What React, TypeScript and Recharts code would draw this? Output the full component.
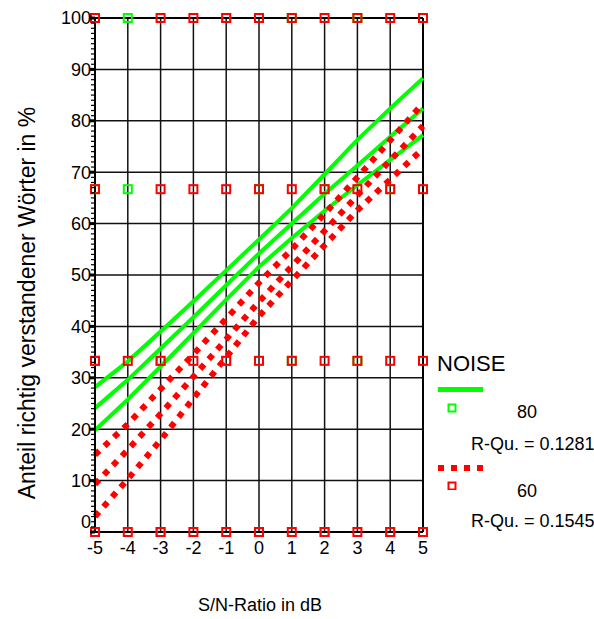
import React from "react";
import {
  ComposedChart,
  Line,
  Scatter,
  XAxis,
  YAxis,
  CartesianGrid,
  ReferenceLine,
} from "recharts";

// S/N ratio (dB) along the x axis
const snrTicks = [-5, -4, -3, -2, -1, 0, 1, 2, 3, 4, 5];
const gridLevels = [10, 20, 30, 40, 50, 60, 70, 80, 90];

// Regression line + mean confidence band, NOISE = 80
const green80Upper = [28.2, 33.2, 39.0, 44.9, 50.9, 56.9, 63.0, 69.6, 76.3, 82.4, 88.3];
const green80Fit = [24.1, 29.6, 35.7, 41.8, 48.0, 54.2, 60.0, 65.8, 71.3, 76.9, 82.4];
const green80Lower = [19.8, 25.8, 32.2, 38.7, 45.2, 51.6, 57.2, 62.5, 67.5, 72.4, 77.2];

// Regression line + mean confidence band, NOISE = 60
const red60Upper = [15.0, 21.0, 27.8, 34.6, 41.5, 48.5, 55.0, 61.9, 69.0, 76.2, 83.4];
const red60Fit = [9.3, 16.0, 23.0, 30.2, 37.5, 44.8, 51.7, 58.6, 65.5, 72.3, 79.0];
const red60Lower = [3.0, 10.3, 17.9, 26.0, 34.0, 42.0, 48.9, 55.8, 62.6, 68.6, 74.6];

// observed scores (share of 3 words)
const green80Points: [number, number][] = [
  [-5, 100], [-4, 100], [-1, 100], [0, 100], [1, 100], [3, 100], [5, 100],
  [-5, 66.7], [-4, 66.7], [0, 66.7], [2, 66.7], [4, 66.7],
  [-5, 33.3], [-3, 33.3], [-1, 33.3], [1, 33.3], [3, 33.3],
  [-5, 0], [-3, 0], [0, 0], [2, 0], [4, 0],
];
const red60Points: [number, number][] = [
  [-5, 100], [-3, 100], [-2, 100], [-1, 100], [0, 100], [1, 100], [2, 100], [3, 100], [4, 100], [5, 100],
  [-5, 66.7], [-3, 66.7], [-2, 66.7], [-1, 66.7], [0, 66.7], [1, 66.7], [2, 66.7], [3, 66.7], [4, 66.7], [5, 66.7],
  [-5, 33.3], [-4, 33.3], [-3, 33.3], [-2, 33.3], [-1, 33.3], [0, 33.3], [1, 33.3], [2, 33.3], [3, 33.3], [4, 33.3], [5, 33.3],
  [-5, 0], [-4, 0], [-3, 0], [-2, 0], [-1, 0], [0, 0], [1, 0], [2, 0], [3, 0], [4, 0], [5, 0],
];

const GREEN = "#00ff00";
const RED = "#ff0000";
const FONT = "'Liberation Sans', Arial, sans-serif";

const lineRows = snrTicks.map((x, i) => ({
  x,
  gU: green80Upper[i],
  gM: green80Fit[i],
  gL: green80Lower[i],
  rU: red60Upper[i],
  rM: red60Fit[i],
  rL: red60Lower[i],
}));

const greenPts = green80Points.map(([x, y]) => ({ x, y }));
const redPts = red60Points.map(([x, y]) => ({ x, y }));

// minor ticks every 1 %
const minorTicks = Array.from({ length: 101 }, (_, i) => i);

const YTick = (props: any) => {
  const { x, y, payload } = props;
  const v = payload.value;
  const major = v % 10 === 0;
  return (
    <g>
      <line
        x1={x - (major ? 5 : 4)}
        x2={x}
        y1={y}
        y2={y}
        stroke="#000"
        strokeWidth={major ? 3 : 1.2}
      />
      {major && (
        <text
          x={x - 4}
          y={y + (v === 0 ? -10 : 0)}
          dy="0.35em"
          textAnchor="end"
          fontSize={18}
          fontFamily={FONT}
          fill="#000"
        >
          {v}
        </text>
      )}
    </g>
  );
};

const square = (color: string) => (props: any) => {
  const { cx, cy } = props;
  return (
    <rect x={cx - 4} y={cy - 4} width={8} height={8} fill="none" stroke={color} strokeWidth={2} />
  );
};

const textStyle: React.CSSProperties = {
  position: "absolute",
  fontFamily: FONT,
  color: "#000",
  whiteSpace: "nowrap",
  lineHeight: 1,
};

export default function App() {
  return (
    <div style={{ position: "absolute", left: 0, top: 0, width: 594, height: 619, background: "#fff" }}>
      <ComposedChart
        width={594}
        height={619}
        data={lineRows}
        margin={{ top: 18, right: 171, bottom: 57, left: 35 }}
      >
        <CartesianGrid horizontal={false} stroke="#111" strokeWidth={1.5} />
        {gridLevels.map((v) => (
          <ReferenceLine key={v} y={v} stroke="#111" strokeWidth={1.5} />
        ))}
        <ReferenceLine y={100} stroke="#000" strokeWidth={2} />
        <ReferenceLine x={5} stroke="#000" strokeWidth={2} />
        <XAxis
          dataKey="x"
          type="number"
          domain={[-5, 5]}
          ticks={snrTicks}
          interval={0}
          height={30}
          tickLine={false}
          tickSize={6}
          tickMargin={3}
          axisLine={{ stroke: "#000", strokeWidth: 2 }}
          tick={{ fill: "#000", fontSize: 18, fontFamily: FONT }}
        />
        <YAxis
          type="number"
          domain={[0, 100]}
          ticks={minorTicks}
          interval={0}
          width={60}
          tickLine={false}
          tickSize={0}
          tickMargin={0}
          axisLine={{ stroke: "#000", strokeWidth: 2 }}
          tick={<YTick />}
        />
        <Line dataKey="gU" type="linear" stroke={GREEN} strokeWidth={4} dot={false} isAnimationActive={false} />
        <Line dataKey="gM" type="linear" stroke={GREEN} strokeWidth={4} dot={false} isAnimationActive={false} />
        <Line dataKey="gL" type="linear" stroke={GREEN} strokeWidth={4} dot={false} isAnimationActive={false} />
        <Line dataKey="rU" type="linear" stroke={RED} strokeWidth={6} strokeDasharray="6 7" dot={false} isAnimationActive={false} />
        <Line dataKey="rM" type="linear" stroke={RED} strokeWidth={6} strokeDasharray="6 7" dot={false} isAnimationActive={false} />
        <Line dataKey="rL" type="linear" stroke={RED} strokeWidth={6} strokeDasharray="6 7" dot={false} isAnimationActive={false} />
        <Scatter data={greenPts} dataKey="y" shape={square(GREEN)} isAnimationActive={false} />
        <Scatter data={redPts} dataKey="y" shape={square(RED)} isAnimationActive={false} />
      </ComposedChart>

      {/* axis titles */}
      <div style={{ ...textStyle, left: 260, top: 596, fontSize: 18, transform: "translateX(-50%)" }}>
        S/N-Ratio in dB
      </div>
      <div
        style={{
          ...textStyle,
          left: 27,
          top: 303,
          fontSize: 23,
          transform: "translate(-50%, -50%) rotate(-90deg)",
        }}
      >
        Anteil richtig verstandener Wörter in %
      </div>

      {/* legend */}
      <div style={{ ...textStyle, left: 437, top: 353, fontSize: 22 }}>NOISE</div>
      <svg style={{ position: "absolute", left: 430, top: 380 }} width={70} height={110}>
        <line x1={8} x2={53} y1={9.5} y2={9.5} stroke={GREEN} strokeWidth={5} />
        <rect x={18.5} y={24.5} width={7} height={7} fill="none" stroke={GREEN} strokeWidth={2} />
        <line x1={8} x2={53} y1={88} y2={88} stroke={RED} strokeWidth={6} strokeDasharray="6 7" />
        <rect x={18.5} y={102.5} width={7} height={7} fill="none" stroke={RED} strokeWidth={2} />
      </svg>
      <div style={{ ...textStyle, left: 517, top: 403, fontSize: 18 }}>80</div>
      <div style={{ ...textStyle, left: 471, top: 435, fontSize: 18 }}>R-Qu. = 0.1281</div>
      <div style={{ ...textStyle, left: 517, top: 482, fontSize: 18 }}>60</div>
      <div style={{ ...textStyle, left: 471, top: 512, fontSize: 18 }}>R-Qu. = 0.1545</div>
    </div>
  );
}
